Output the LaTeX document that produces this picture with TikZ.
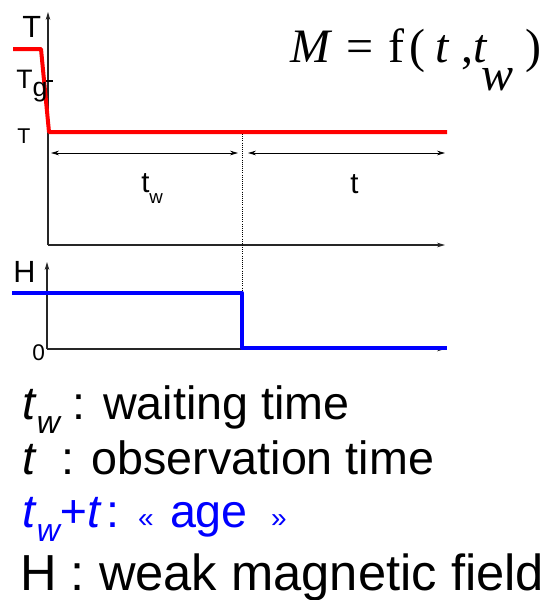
\documentclass[tikz,border=0pt]{standalone}
\usepackage{fontspec}
\setmainfont{Liberation Sans}
\newfontfamily\timesfont{Liberation Serif}
\usetikzlibrary{arrows.meta,positioning}

\newcommand{\fsz}[1]{\fontsize{#1}{#1}\selectfont}
\newcommand{\lowsub}[1]{\raisebox{-0.3em}{\fsz{24}\itshape #1}}

\begin{document}
\begin{tikzpicture}[x=0.75pt, y=-0.75pt,
  axis/.style={black!85, line width=0.9pt, -{Stealth[length=6pt,width=3.5pt]}},
  dim/.style={line width=0.7pt, {Stealth[length=6pt,width=3.5pt]}-{Stealth[length=6pt,width=3.5pt]}},
  tcurve/.style={red, line width=3pt, line join=round},
  hcurve/.style={blue, line width=3pt, line join=round},
  lbl/.style={inner sep=0pt, anchor=base west},
  txt/.style={inner sep=0pt, anchor=base west, font=\fsz{35}}]
  \useasboundingbox (0,0) rectangle (545,600);
  % temperature panel
  \coordinate (o1) at (48,245);
  \coordinate (ytop1) at (48,12);
  \coordinate (xend1) at (445,245);
  \draw[axis] (o1) -- (ytop1);
  \draw[axis] (o1) -- (xend1);
  \coordinate (tg1) at (43,81);
  \coordinate (tg2) at (53,81);
  \draw[line width=0.8pt] (tg1) -- (tg2);
  \coordinate (r0) at (13,49);
  \coordinate (r1) at (41,49);
  \coordinate (r2) at (49,132);
  \coordinate (r3) at (447,132);
  \draw[tcurve] (r0) -- (r1) -- (r2) -- (r3);
  \node[lbl, font=\fsz{23}] (Ttop) at (22,37) {T};
  \node[lbl, font=\fsz{20}] (Tg) at (16,88) {T\raisebox{-0.3em}{g}};
  \node[lbl, font=\fsz{16}] (Tlow) at (17,143) {T};
  % time intervals
  \coordinate (a0) at (51,153);
  \coordinate (a1) at (238,153);
  \coordinate (b0) at (248,153);
  \coordinate (b1) at (445,153);
  \draw[dim] (a0) -- (a1);
  \draw[dim] (b0) -- (b1);
  \coordinate (d0) at (242,134);
  \coordinate (d1) at (242,293);
  \draw[densely dotted, line width=0.6pt] (d0) -- (d1);
  \node[lbl, font=\fsz{22}] (tw) at (141,192) {t\raisebox{-0.4em}{\fsz{14}w}};
  \node[lbl, font=\fsz{22}] (tobs) at (350,193) {t};
  % field panel
  \coordinate (o2) at (47,349);
  \coordinate (ytop2) at (47,262);
  \coordinate (xend2) at (445,349);
  \draw[axis] (o2) -- (ytop2);
  \draw[axis] (o2) -- (xend2);
  \coordinate (h0) at (12,293);
  \coordinate (h1) at (242,293);
  \coordinate (h2) at (242,348);
  \coordinate (h3) at (447,348);
  \draw[hcurve] (h0) -- (h1) -- (h2) -- (h3);
  \node[lbl, font=\fsz{23}] (Hlbl) at (13,282) {H};
  \node[lbl, font=\fsz{17}] (zero) at (32,360) {0};
  % magnetisation
  \node[lbl, font=\timesfont\fsz{36}] (Mf) at (290,62)
    {\textit{M}\hspace{0.3em}=\hspace{0.3em}f\hspace{0.1em}(\hspace{0.22em}\textit{t}\hspace{0.25em},\hspace{0em}\textit{t}\hspace{-0.15em}\raisebox{-0.6em}{\textit{w}}\hspace{0.25em})};
  % legend
  \node[txt] (leg1) at (22,419) {\textit{t}\lowsub{w} : waiting time};
  \node[txt] (leg2) at (22,474) {\textit{t}\hspace{0.25em} : observation time};
  \node[txt, blue] (leg3) at (22,527) {\textit{t}\lowsub{w}\textit{+t}\hspace{0.1em}:\hspace{0.4em}{\fsz{21}«}\hspace{0.35em}age\hspace{0.5em}{\fsz{21}»}};
  \node[txt, font=\fsz{38}] (leg4) at (20,590) {H : weak magnetic field};
\end{tikzpicture}
\end{document}
